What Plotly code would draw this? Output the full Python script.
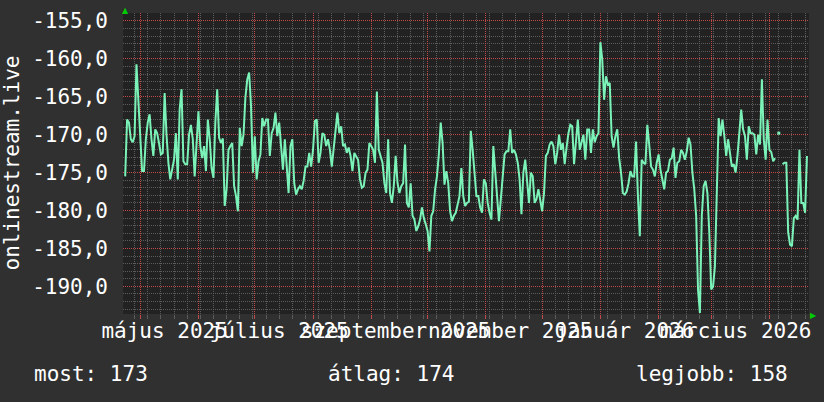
import pandas as pd
import plotly.graph_objects as go

# ---------------- data ----------------
series_name = "onlinestream.live"
start_date = "2025-04-23"

values = [
    -175.5, -168.0, -168.4, -170.6, -171.0, -170.2, -160.7, -166.0, -171.0, -174.8,
    -174.8, -170.6, -168.4, -167.3, -170.6, -172.8, -169.3, -169.8, -171.1, -172.6,
    -172.4, -164.5, -170.0, -173.7, -175.9, -174.4, -173.3, -169.8, -175.9, -166.7,
    -164.0, -173.5, -173.9, -173.9, -170.0, -168.7, -170.6, -175.5, -170.2, -166.9,
    -171.5, -173.1, -171.5, -174.8, -168.0, -170.6, -174.4, -175.7, -168.4, -164.0,
    -170.4, -171.1, -170.5, -179.4, -177.2, -172.0, -171.5, -171.1, -176.8, -178.1,
    -180.1, -169.1, -171.5, -170.0, -165.1, -162.7, -161.8, -166.2, -175.0, -170.2,
    -175.9, -173.5, -172.6, -167.8, -168.9, -168.0, -168.0, -172.8, -169.8, -169.1,
    -167.1, -170.2, -168.4, -171.5, -174.6, -170.6, -174.8, -177.7, -171.5, -170.6,
    -176.4, -177.9, -177.2, -176.8, -177.2, -176.1, -174.2, -174.2, -172.4, -174.2,
    -172.0, -168.2, -168.0, -173.7, -172.4, -169.8, -170.0, -171.5, -170.6, -172.0,
    -174.2, -172.0, -169.3, -167.1, -169.8, -168.9, -171.5, -171.3, -172.4, -171.7,
    -172.8, -174.8, -172.4, -172.8, -173.3, -175.9, -177.0, -176.8, -175.0, -174.6,
    -171.1, -171.5, -172.0, -173.7, -164.3, -172.0, -172.8, -173.7, -176.4, -177.7,
    -170.6, -177.7, -179.0, -176.8, -172.8, -176.4, -177.7, -176.8, -176.4, -171.3,
    -179.0, -179.6, -176.4, -180.7, -181.2, -182.7, -182.1, -181.2, -179.6, -181.0,
    -181.8, -182.7, -185.4, -180.7, -180.1, -177.2, -175.5, -172.6, -168.4, -171.1,
    -176.6, -174.8, -176.4, -180.1, -181.4, -180.7, -180.3, -179.2, -178.1, -174.4,
    -178.1, -179.4, -179.0, -178.8, -169.5, -172.0, -174.8, -178.1, -178.1, -179.6,
    -180.3, -175.9, -176.4, -179.0, -180.3, -181.2, -171.5, -174.8, -176.8, -181.4,
    -178.5, -175.5, -172.6, -172.2, -172.2, -169.3, -172.4, -172.0, -172.6, -173.7,
    -175.9, -180.5, -175.0, -173.3, -175.9, -179.0, -175.0, -175.5, -179.0, -178.5,
    -177.2, -178.5, -180.1, -177.7, -172.8, -172.4, -171.3, -170.9, -171.5, -173.9,
    -172.4, -170.0, -172.0, -171.1, -173.9, -171.7, -169.8, -168.7, -168.9, -173.9,
    -170.6, -168.0, -172.0, -171.1, -170.0, -173.3, -169.3, -169.3, -172.4, -169.3,
    -171.0, -170.2, -169.8, -157.8, -160.1, -165.4, -162.3, -163.4, -163.2, -170.2,
    -171.7, -170.2, -169.3, -173.1, -175.0, -177.7, -177.9, -177.5, -176.4, -174.8,
    -175.5, -175.5, -170.9, -178.1, -183.4, -173.3, -173.7, -173.9, -168.7, -171.3,
    -174.2, -174.6, -175.5, -173.7, -172.6, -174.6, -175.7, -177.2, -175.0, -174.8,
    -173.3, -173.1, -171.7, -175.7, -173.7, -173.5, -172.0, -172.4, -173.3, -172.2,
    -170.4, -171.3, -175.0, -177.2, -180.7, -190.4, -193.5, -180.7, -176.8, -176.1,
    -177.7, -182.9, -190.4, -190.0, -187.3, -176.8, -167.8, -170.2, -168.0, -170.2,
    -172.8, -170.6, -172.8, -174.2, -173.9, -175.0, -172.8, -169.3, -166.7, -169.3,
    -170.2, -173.3, -168.9, -169.8, -169.8, -170.0, -172.6, -170.0, -171.3, -162.7,
    -170.6, -173.3, -168.0, -172.0, -172.3, -173.5, -173.1, None, -169.8, None,
    -173.9, -173.7, -173.7, -182.9, -184.5, -184.7, -181.0, -180.7, -181.2, -172.0,
    -179.0, -179.0, -180.3, -172.8,
]
dates = pd.date_range(start_date, periods=len(values), freq="D")

month_tick_dates = ["2025-05-14", "2025-07-14", "2025-09-14",
                    "2025-11-14", "2026-01-14", "2026-03-14"]
month_tick_labels = ["május 2025", "július 2025", "szeptember 2025",
                     "november 2025", "január 2026", "március 2026"]

y_tick_values = [-155, -160, -165, -170, -175, -180, -185, -190]
y_tick_labels = ["-155,0", "-160,0", "-165,0", "-170,0",
                 "-175,0", "-180,0", "-185,0", "-190,0"]

stat_labels = ["most", "átlag", "legjobb"]
stat_values = [173, 174, 158]

x_range = ["2025-04-21 20:00", "2026-04-22 02:00"]
y_range = [-193.65, -153.95]

# minor horizontal grid: every unit that is not a labelled (major) value
y_minor_values = [v for v in range(-193, -153) if v not in y_tick_values]

# ---------------- style ----------------
OUTER_BG = "#303030"
PLOT_BG = "#222222"
MAJOR_GRID = "#c04848"
MINOR_GRID = "#5c5c5c"
LINE = "#7af2b8"
ARROW = "#00cc00"
FONT = "DejaVu Sans Mono"

iso_x, iso_y = [], []
for i, v in enumerate(values):
    if v is None:
        continue
    prev_none = i == 0 or values[i - 1] is None
    next_none = i == len(values) - 1 or values[i + 1] is None
    if prev_none and next_none:
        iso_x.append(dates[i])
        iso_y.append(v)

fig = go.Figure()
fig.add_trace(go.Scatter(x=[dates[0]], y=[None], xaxis="x", yaxis="y",
                         mode="lines", hoverinfo="skip"))
fig.add_trace(go.Scatter(x=[dates[0]], y=[None], xaxis="x2", yaxis="y2",
                         mode="lines", hoverinfo="skip"))
fig.add_trace(go.Scatter(x=[dates[0]], y=[None], xaxis="x3", yaxis="y2",
                         mode="lines", hoverinfo="skip"))
fig.add_trace(go.Scatter(x=dates, y=values, mode="lines", connectgaps=False,
                         xaxis="x2", yaxis="y2",
                         line=dict(color=LINE, width=2), hoverinfo="skip"))
fig.add_trace(go.Scatter(x=iso_x, y=iso_y, mode="markers", xaxis="x2", yaxis="y2",
                         marker=dict(color=LINE, size=3, symbol="square"),
                         hoverinfo="skip"))

dot = "1px,1px"
week_ms = 7 * 86400000
fig.update_layout(
    width=824, height=402,
    margin=dict(l=123, r=15, t=13, b=88, pad=0),
    paper_bgcolor=OUTER_BG, plot_bgcolor=PLOT_BG,
    font=dict(family=FONT, size=21, color="#ffffff"),
    showlegend=False,
    # base subplot: gray weekly / unit grid
    xaxis=dict(type="date", range=x_range, tickmode="linear", tick0="2025-04-28",
               dtick=week_ms, showticklabels=False, showgrid=True,
               gridcolor=MINOR_GRID, griddash=dot, ticks="outside", ticklen=4,
               tickcolor=MINOR_GRID, zeroline=False, showline=False,
               automargin=False, fixedrange=True),
    yaxis=dict(range=y_range, tickmode="array", tickvals=y_minor_values,
               showticklabels=False, showgrid=True, gridcolor=MINOR_GRID,
               griddash=dot, ticks="", zeroline=False, showline=False,
               automargin=False, fixedrange=True),
    # overlay: red monthly grid + month tick marks
    xaxis2=dict(type="date", overlaying="x", matches="x", anchor="y2", side="bottom",
                tickmode="linear", tick0="2025-05-01", dtick="M1",
                showticklabels=False, showgrid=True, gridcolor=MAJOR_GRID,
                griddash=dot, gridwidth=1, ticks="outside", ticklen=4,
                tickcolor=MAJOR_GRID, zeroline=False, showline=False,
                automargin=False, fixedrange=True),
    # overlay: red 5-unit grid + value labels
    yaxis2=dict(overlaying="y", matches="y", anchor="x2", side="left",
                tickmode="array", tickvals=y_tick_values, ticktext=y_tick_labels,
                showgrid=True, gridcolor=MAJOR_GRID, griddash=dot, gridwidth=1,
                zeroline=False, showline=False, ticks="",
                automargin=False, ticklabelstandoff=14, fixedrange=True),
    # month labels
    xaxis3=dict(type="date", overlaying="x", matches="x", anchor="y2", side="bottom",
                tickmode="array", tickvals=month_tick_dates,
                ticktext=month_tick_labels, tickangle=0, showgrid=False,
                zeroline=False, showline=False, ticks="", ticklabelstandoff=2,
                automargin=False, fixedrange=True),
)

plot_w = 824 - 123 - 15
plot_h = 402 - 13 - 88
annotations = [
    dict(text=series_name, xref="paper", yref="paper", x=(11 - 123) / plot_w, y=0.5,
         textangle=-90, xanchor="center", yanchor="middle", showarrow=False,
         font=dict(family=FONT, size=21, color="#ffffff")),
    dict(text="▲", xref="paper", yref="paper", x=(125 - 123) / plot_w,
         y=(314 - 10) / plot_h, xanchor="center", yanchor="middle", showarrow=False,
         font=dict(family="DejaVu Sans", size=8, color=ARROW)),
    dict(text="▶", xref="paper", yref="paper", x=(813 - 123) / plot_w,
         y=(314 - 315) / plot_h, xanchor="center", yanchor="middle", showarrow=False,
         font=dict(family="DejaVu Sans", size=8, color=ARROW)),
]
stat_x = [32, 326, 634]
for lab, val, sx in zip(stat_labels, stat_values, stat_x):
    annotations.append(dict(text=f"{lab}: {val}", xref="paper", yref="paper",
                            x=(sx - 123) / plot_w, y=-(374 - 314) / plot_h,
                            xanchor="left", yanchor="middle", showarrow=False,
                            font=dict(family=FONT, size=21, color="#ffffff")))
fig.update_layout(annotations=annotations)

fig.write_html("out.html", config={"displayModeBar": False},
               post_script="document.body.style.margin='0px';")
